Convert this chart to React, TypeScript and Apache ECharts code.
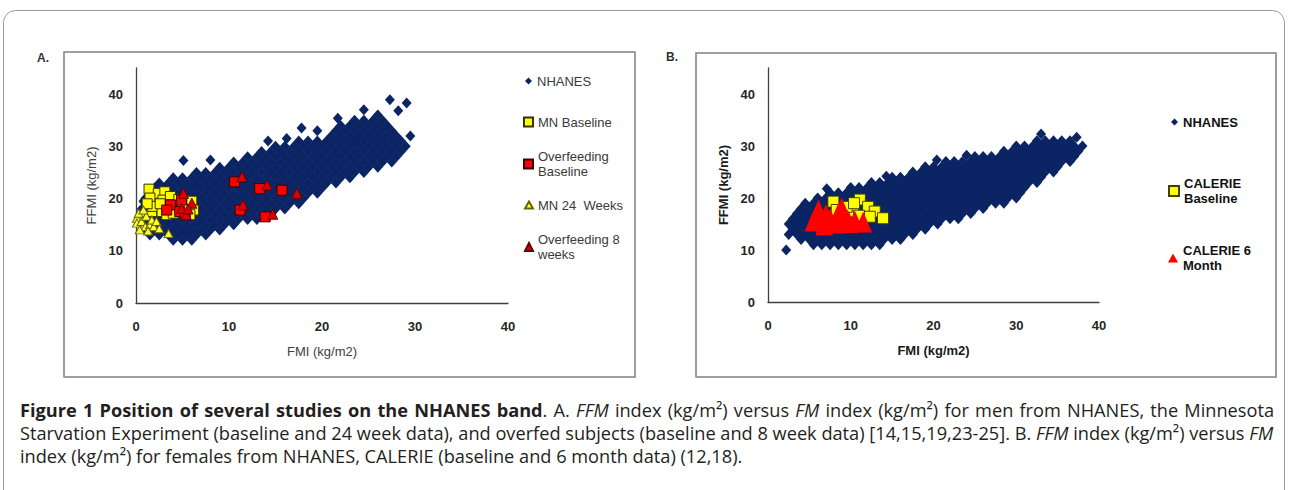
import React, { useEffect, useRef } from 'react';
import * as echarts from 'echarts';

const FONT = 'Liberation Sans, Arial, sans-serif';
const CAP_FONT = 'Open Sans, Noto Sans, sans-serif';
const CAP_SIZE = 18.2;
const NAVY = '#0b2464';

// ---------- Panel A (men) ----------
// NHANES cloud, read row by row: [FFMI, FMI values in that row]
const nhanesMenRows: [number, number[]][] = [
  [12, [4, 5, 6]],
  [13, [1.5, 2.5, 3.5, 4.5, 5.5, 6.5, 7.5]],
  [14, [1, 2, 3, 4, 5, 6, 7, 8, 9]],
  [15, [1.5, 2.5, 3.5, 4.5, 5.5, 6.5, 7.5, 8.5, 9.5, 10.5]],
  [16, [1, 2, 3, 4, 5, 6, 7, 8, 9, 10, 11, 12, 13]],
  [17, [1.5, 2.5, 3.5, 4.5, 5.5, 6.5, 7.5, 8.5, 9.5, 10.5, 11.5, 12.5, 13.5, 14.5]],
  [18, [1, 2, 3, 4, 5, 6, 7, 8, 9, 10, 11, 12, 13, 14, 15, 16]],
  [19, [1.5, 2.5, 3.5, 4.5, 5.5, 6.5, 7.5, 8.5, 9.5, 10.5, 11.5, 12.5, 13.5, 14.5, 15.5, 16.5, 17.5]],
  [20, [1, 2, 3, 4, 5, 6, 7, 8, 9, 10, 11, 12, 13, 14, 15, 16, 17, 18]],
  [21, [1.5, 2.5, 3.5, 4.5, 5.5, 6.5, 7.5, 8.5, 9.5, 10.5, 11.5, 12.5, 13.5, 14.5, 15.5, 16.5, 17.5, 18.5, 19.5]],
  [22, [2, 3, 4, 5, 6, 7, 8, 9, 10, 11, 12, 13, 14, 15, 16, 17, 18, 19, 20]],
  [23, [2.5, 3.5, 4.5, 5.5, 6.5, 7.5, 8.5, 9.5, 10.5, 11.5, 12.5, 13.5, 14.5, 15.5, 16.5, 17.5, 18.5, 19.5, 20.5, 21.5]],
  [24, [4, 5, 6, 7, 8, 9, 10, 11, 12, 13, 14, 15, 16, 17, 18, 19, 20, 21, 22, 23]],
  [25, [6.5, 7.5, 8.5, 9.5, 10.5, 11.5, 12.5, 13.5, 14.5, 15.5, 16.5, 17.5, 18.5, 19.5, 20.5, 21.5, 22.5, 23.5, 24.5]],
  [26, [9, 10, 11, 12, 13, 14, 15, 16, 17, 18, 19, 20, 21, 22, 23, 24, 25, 26]],
  [27, [10.5, 11.5, 12.5, 13.5, 14.5, 15.5, 16.5, 17.5, 18.5, 19.5, 20.5, 21.5, 22.5, 23.5, 24.5, 25.5, 26.5, 27.5]],
  [28, [12, 13, 14, 15, 16, 17, 18, 19, 20, 21, 22, 23, 24, 25, 26, 27, 28]],
  [29, [13.5, 14.5, 15.5, 16.5, 17.5, 18.5, 19.5, 20.5, 21.5, 22.5, 23.5, 24.5, 25.5, 26.5, 27.5, 28.5]],
  [30, [15, 16, 17, 18, 19, 20, 21, 22, 23, 24, 25, 26, 27, 28, 29]],
  [31, [17.5, 18.5, 19.5, 20.5, 21.5, 22.5, 23.5, 24.5, 25.5, 26.5, 27.5, 28.5]],
  [32, [21, 22, 23, 24, 25, 26, 27, 28]],
  [33, [21.5, 22.5, 23.5, 24.5, 25.5, 26.5, 27.5]],
  [34, [22, 23, 24, 25, 26, 27]],
  [35, [23.5, 24.5, 25.5, 26.5]],
  [36, [26]],
];
const nhanesMenOutliers: number[][] = [
  [5.1, 27.3], [8, 27.4], [14.2, 31], [16.2, 31.5], [17.8, 33.5], [19.5, 33],
  [21.7, 35.4], [24.5, 37], [27.3, 38.9], [29.1, 38.3], [28.2, 36.8], [29.5, 32],
  [0.8, 19.5], [0.6, 18],
];
const mnBaseline: number[][] = [
  [1.4, 21.8], [2.4, 21.0], [3.1, 21.3], [1.5, 20.1], [2.9, 19.7], [3.7, 20.4],
  [1.7, 17.5], [1.8, 18.5], [2.8, 17.5], [3.3, 16.9], [4.0, 17.2], [3.8, 18.8],
  [6.0, 19.5], [6.2, 17.8], [5.8, 16.9], [2.6, 19.0], [4.6, 19.8], [1.2, 19.0], [5.0, 18.0],
];
const overfeedingBaseline: number[][] = [
  [10.6, 23.2], [13.3, 21.9], [15.7, 21.6], [11.2, 17.8], [13.9, 16.5],
  [3.7, 18.8], [3.3, 17.8], [4.7, 17.5], [5.3, 16.9], [4.9, 19.7],
];
const mn24Weeks: number[][] = [
  [0.1, 16.2], [0.3, 17.2], [0.1, 15.3], [0.6, 15.6], [1.0, 14.6], [1.5, 15.0],
  [1.9, 14.6], [1.1, 16.6], [1.7, 15.9], [0.4, 14.0], [3.5, 13.3], [2.2, 15.6],
  [0.8, 17.8], [2.5, 14.2], [1.3, 13.8],
];
const overfeeding8Weeks: number[][] = [
  [11.4, 24.2], [14.1, 22.6], [17.3, 21.0], [11.5, 18.8], [14.7, 17.0],
  [5.1, 21.0], [6.0, 19.1], [5.4, 16.9], [4.9, 18.1], [5.6, 18.0],
];

// ---------- Panel B (women) ----------
const nhanesWomenRows: [number, number[]][] = [
  [11, [5.5, 6.5, 7.5, 8.5, 9.5, 10.5, 11.5, 12.5, 13.5]],
  [12, [4, 5, 6, 7, 8, 9, 10, 11, 12, 13, 14, 15, 16]],
  [13, [2.5, 3.5, 4.5, 5.5, 6.5, 7.5, 8.5, 9.5, 10.5, 11.5, 12.5, 13.5, 14.5, 15.5, 16.5, 17.5]],
  [14, [3, 4, 5, 6, 7, 8, 9, 10, 11, 12, 13, 14, 15, 16, 17, 18, 19]],
  [15, [2.5, 3.5, 4.5, 5.5, 6.5, 7.5, 8.5, 9.5, 10.5, 11.5, 12.5, 13.5, 14.5, 15.5, 16.5, 17.5, 18.5, 19.5, 20.5]],
  [16, [3, 4, 5, 6, 7, 8, 9, 10, 11, 12, 13, 14, 15, 16, 17, 18, 19, 20, 21, 22, 23]],
  [17, [3.5, 4.5, 5.5, 6.5, 7.5, 8.5, 9.5, 10.5, 11.5, 12.5, 13.5, 14.5, 15.5, 16.5, 17.5, 18.5, 19.5, 20.5, 21.5, 22.5, 23.5, 24.5]],
  [18, [4, 5, 6, 7, 8, 9, 10, 11, 12, 13, 14, 15, 16, 17, 18, 19, 20, 21, 22, 23, 24, 25, 26]],
  [19, [4.5, 5.5, 6.5, 7.5, 8.5, 9.5, 10.5, 11.5, 12.5, 13.5, 14.5, 15.5, 16.5, 17.5, 18.5, 19.5, 20.5, 21.5, 22.5, 23.5, 24.5, 25.5, 26.5, 27.5, 28.5]],
  [20, [6, 7, 8, 9, 10, 11, 12, 13, 14, 15, 16, 17, 18, 19, 20, 21, 22, 23, 24, 25, 26, 27, 28, 29, 30]],
  [21, [7.5, 8.5, 9.5, 10.5, 11.5, 12.5, 13.5, 14.5, 15.5, 16.5, 17.5, 18.5, 19.5, 20.5, 21.5, 22.5, 23.5, 24.5, 25.5, 26.5, 27.5, 28.5, 29.5, 30.5]],
  [22, [10, 11, 12, 13, 14, 15, 16, 17, 18, 19, 20, 21, 22, 23, 24, 25, 26, 27, 28, 29, 30, 31]],
  [23, [12.5, 13.5, 14.5, 15.5, 16.5, 17.5, 18.5, 19.5, 20.5, 21.5, 22.5, 23.5, 24.5, 25.5, 26.5, 27.5, 28.5, 29.5, 30.5, 31.5, 32.5]],
  [24, [15, 16, 17, 18, 19, 20, 21, 22, 23, 24, 25, 26, 27, 28, 29, 30, 31, 32, 33]],
  [25, [17.5, 18.5, 19.5, 20.5, 21.5, 22.5, 23.5, 24.5, 25.5, 26.5, 27.5, 28.5, 29.5, 30.5, 31.5, 32.5, 33.5, 34.5]],
  [26, [19, 20, 21, 22, 23, 24, 25, 26, 27, 28, 29, 30, 31, 32, 33, 34, 35]],
  [27, [21.5, 22.5, 23.5, 24.5, 25.5, 26.5, 27.5, 28.5, 29.5, 30.5, 31.5, 32.5, 33.5, 34.5, 35.5, 36.5]],
  [28, [25, 26, 27, 28, 29, 30, 31, 32, 33, 34, 35, 36, 37]],
  [29, [28.5, 29.5, 30.5, 31.5, 32.5, 33.5, 34.5, 35.5, 36.5, 37.5]],
  [30, [30, 31, 32, 33, 34, 35, 36, 37, 38]],
  [31, [32.5, 33.5, 34.5, 35.5, 36.5]],
];
const nhanesWomenOutliers: number[][] = [
  [2.2, 10], [37.3, 31.7], [33, 32.3], [20.4, 27.3], [24, 28.2], [14.3, 24.2], [7.1, 21.8],
];
const calerieBaseline: number[][] = [
  [7.9, 19.3], [11.1, 19.7], [12.1, 18.3], [12.9, 17.4], [13.9, 16.1], [10.3, 17.4],
  [12.3, 16.4], [8.3, 17.7], [9.5, 18.3], [10.4, 19.0], [11.0, 16.6], [9.0, 16.5],
];
const calerie6Month: number[][] = [
  [5.5, 15.6], [6.1, 17.7], [6.8, 14.8], [7.5, 16.0], [8.2, 15.2], [8.9, 18.1],
  [9.3, 16.2], [9.8, 15.3], [10.5, 15.6], [11.5, 15.4], [8.5, 17.0], [7.0, 16.8],
];

const axisTicks = [0, 10, 20, 30, 40];

// caption segments: [style, text]
const captionSegments: [string, string][][] = [
  [['b', 'Figure 1 Position of several studies on the NHANES band'], ['n', '. A. '], ['i', 'FFM'],
   ['n', ' index (kg/m\u00b2) versus '], ['i', 'FM'], ['n', ' index (kg/m\u00b2) for men from NHANES, the Minnesota']],
  [['n', 'Starvation Experiment (baseline and 24 week data), and overfed subjects (baseline and 8 week data) [14,15,19,23-25]. B. '],
   ['i', 'FFM'], ['n', ' index (kg/m\u00b2) versus '], ['i', 'FM']],
  [['n', 'index (kg/m\u00b2) for females from NHANES, CALERIE (baseline and 6 month data) (12,18).']],
];
const captionJustify = [true, false, false];

const rowsToPoints = (rows: [number, number[]][], extra: number[][]) =>
  rows.flatMap(([y, xs]) => xs.map((x) => [x, y])).concat(extra);

function xAxis(grid: number, bold: boolean) {
  return {
    type: 'value', gridIndex: grid, min: 0, max: 40, interval: 10,
    axisLine: { show: true, lineStyle: { color: '#404040', width: 1.3 } },
    axisTick: { show: false }, splitLine: { show: false },
    axisLabel: { margin: 17, fontSize: 13, fontWeight: 'bold', color: '#262626', fontFamily: FONT,
      formatter: (v: number) => (axisTicks.includes(v) ? String(v) : '') },
    name: 'FMI (kg/m2)', nameLocation: 'middle', nameGap: 42,
    nameTextStyle: { fontSize: 13, fontFamily: FONT, color: bold ? '#1a1a1a' : '#404040', fontWeight: bold ? 'bold' : 'normal' },
  };
}
function yAxis(grid: number, bold: boolean) {
  return {
    type: 'value', gridIndex: grid, min: 0, max: 45, interval: 10,
    axisLine: { show: true, lineStyle: { color: '#404040', width: 1.3 } },
    axisTick: { show: false }, splitLine: { show: false },
    axisLabel: { margin: 13, fontSize: 13, fontWeight: 'bold', color: '#262626', fontFamily: FONT,
      formatter: (v: number) => (axisTicks.includes(v) ? String(v) : '') },
    name: 'FFMI (kg/m2)', nameLocation: 'middle', nameGap: 38,
    nameTextStyle: { fontSize: 13, fontFamily: FONT, color: bold ? '#1a1a1a' : '#404040', fontWeight: bold ? 'bold' : 'normal' },
  };
}

function legendItem(name: string, left: number, top: number, iw: number, ih: number, bold: boolean, label?: string) {
  const twoLines = !!label && label.includes('\n');
  return {
    data: [name], left, top, orient: 'vertical', itemWidth: iw, itemHeight: ih, padding: 0, itemGap: 0,
    selectedMode: false,
    formatter: label ? () => label : undefined,
    textStyle: {
      fontSize: 13, fontFamily: FONT, lineHeight: 15,
      color: bold ? '#111' : '#3a3a3a', fontWeight: bold ? 'bold' : 'normal',
      padding: twoLines ? [15, 0, 0, 0] : 0,
    },
  };
}

const SPACE_W = 6.2;
const baseRich: any = {
  b: { fontFamily: CAP_FONT, fontSize: CAP_SIZE, fontWeight: 'bold', color: '#231f20' },
  n: { fontFamily: CAP_FONT, fontSize: CAP_SIZE, color: '#231f20' },
  i: { fontFamily: CAP_FONT, fontSize: CAP_SIZE, fontStyle: 'italic', color: '#231f20' },
};
const capRich: any = {
  ...baseRich,
  bs: { ...baseRich.b, width: SPACE_W },
  ns: { ...baseRich.n, width: SPACE_W },
  is: { ...baseRich.i, width: SPACE_W },
};
function richLine(segs: [string, string][], justify: boolean) {
  return segs
    .map(([s, t]) =>
      justify
        ? t.split(' ').map((w) => (w ? `{${s}|${w}}` : '')).join(`{${s}s| }`)
        : `{${s}|${t}}`,
    )
    .join('');
}

export default function App() {
  const ref = useRef<HTMLDivElement>(null);
  useEffect(() => {
    if (!ref.current) return;
    const chart = echarts.init(ref.current, undefined, { renderer: 'svg' });
    const option: any = {
      animation: false,
      backgroundColor: '#ffffff',
      grid: [
        { left: 136, top: 68, width: 372, height: 235 },
        { left: 768, top: 68, width: 331, height: 234 },
      ],
      xAxis: [xAxis(0, false), xAxis(1, true)],
      yAxis: [yAxis(0, false), yAxis(1, true)],
      legend: [
        legendItem('NHANES', 525, 73.5, 7, 7, false),
        legendItem('MN Baseline', 523, 114.5, 9, 9, false),
        legendItem('Overfeeding Baseline', 523, 141.5, 9, 9, false, 'Overfeeding\nBaseline'),
        legendItem('MN 24 Weeks', 524, 197.5, 8, 7, false, 'MN 24  Weeks'),
        legendItem('Overfeeding 8 weeks', 524, 224.5, 8, 8, false, 'Overfeeding 8\nweeks'),
        legendItem('NHANES', 1171, 114.5, 7, 7, true),
        legendItem('CALERIE Baseline', 1168, 168.5, 10, 10, true, 'CALERIE\nBaseline'),
        legendItem('CALERIE 6 Month', 1168, 235.5, 10, 9, true, 'CALERIE 6\nMonth'),
      ],
      series: [
        { name: 'NHANES', type: 'scatter', xAxisIndex: 0, yAxisIndex: 0, symbol: 'diamond', symbolSize: [10, 11],
          itemStyle: { color: NAVY, opacity: 1 }, data: rowsToPoints(nhanesMenRows, nhanesMenOutliers) },
        { name: 'MN Baseline', type: 'scatter', xAxisIndex: 0, yAxisIndex: 0, symbol: 'rect', symbolSize: 10,
          itemStyle: { color: '#ffff00', borderColor: '#333300', borderWidth: 1, opacity: 1 }, data: mnBaseline },
        { name: 'Overfeeding Baseline', type: 'scatter', xAxisIndex: 0, yAxisIndex: 0, symbol: 'rect', symbolSize: 10,
          itemStyle: { color: '#ff0000', borderColor: '#3a0000', borderWidth: 1, opacity: 1 }, data: overfeedingBaseline },
        { name: 'MN 24 Weeks', type: 'scatter', xAxisIndex: 0, yAxisIndex: 0, symbol: 'triangle', symbolSize: [9, 8],
          itemStyle: { color: '#ffff33', borderColor: '#666600', borderWidth: 1, opacity: 1 }, data: mn24Weeks },
        { name: 'Overfeeding 8 weeks', type: 'scatter', xAxisIndex: 0, yAxisIndex: 0, symbol: 'triangle', symbolSize: [10, 10],
          itemStyle: { color: '#dd0000', borderColor: '#6a0000', borderWidth: 1, opacity: 1 }, data: overfeeding8Weeks },
        { name: 'NHANES', type: 'scatter', xAxisIndex: 1, yAxisIndex: 1, symbol: 'diamond', symbolSize: [10, 11],
          itemStyle: { color: NAVY, opacity: 1 }, data: rowsToPoints(nhanesWomenRows, nhanesWomenOutliers) },
        { name: 'CALERIE Baseline', type: 'scatter', xAxisIndex: 1, yAxisIndex: 1, symbol: 'rect', symbolSize: 11,
          itemStyle: { color: '#ffff00', borderColor: '#404000', borderWidth: 1, opacity: 1 }, data: calerieBaseline },
        { name: 'CALERIE 6 Month', type: 'scatter', xAxisIndex: 1, yAxisIndex: 1, symbol: 'triangle', symbolSize: [18, 21],
          itemStyle: { color: '#ff0000', opacity: 1 }, data: calerie6Month },
      ],
      graphic: [
        { type: 'rect', shape: { x: 3.5, y: 10.5, width: 1281, height: 540, r: 12 }, style: { fill: 'none', stroke: '#9a9a9a', lineWidth: 1 }, silent: true, z: -1 },
        { type: 'rect', shape: { x: 64, y: 52, width: 571, height: 325 }, style: { fill: 'none', stroke: '#808080', lineWidth: 1.5 }, silent: true },
        { type: 'rect', shape: { x: 696, y: 53, width: 580, height: 324 }, style: { fill: 'none', stroke: '#808080', lineWidth: 1.5 }, silent: true },
        { type: 'text', style: { x: 37, y: 58, text: 'A.', font: `bold 12px ${FONT}`, fill: '#333', verticalAlign: 'middle' } },
        { type: 'text', style: { x: 666, y: 57, text: 'B.', font: `bold 12px ${FONT}`, fill: '#333', verticalAlign: 'middle' } },
        ...captionSegments.map((segs, i) => ({
          type: 'text',
          style: { x: 20, y: 410 + i * 23, text: richLine(segs, captionJustify[i]), rich: capRich, verticalAlign: 'middle',
            font: `${CAP_SIZE}px ${CAP_FONT}`, fill: '#231f20' },
        })),
      ],
    };
    chart.setOption(option);
    return () => chart.dispose();
  }, []);
  return <div ref={ref} style={{ position: 'absolute', left: 0, top: 0, width: 1289, height: 490, background: '#fff' }} />;
}
